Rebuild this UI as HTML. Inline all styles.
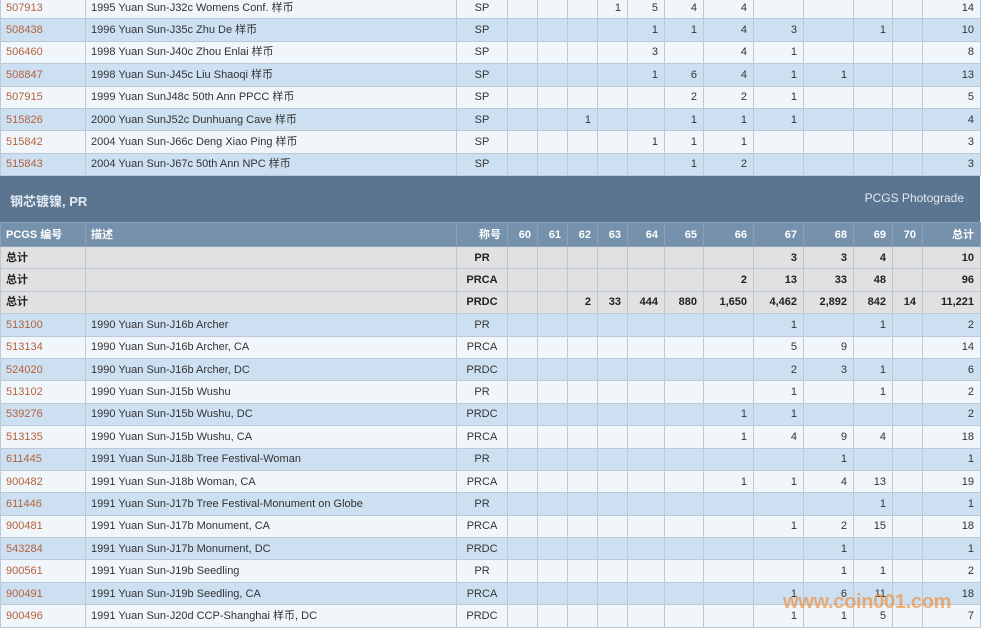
<!DOCTYPE html>
<html><head><meta charset="utf-8"><style>
body{margin:0;width:982px;height:630px;overflow:hidden;background:#fff;position:relative;font-family:"Liberation Sans","Noto Sans CJK SC",sans-serif;font-size:11px;color:#333}
table{border-collapse:collapse;table-layout:fixed;position:absolute;left:0;width:980px}
td{border:1px solid #b9c9d8;padding:0 6px 0 0;text-align:right;white-space:nowrap;overflow:hidden;height:21.4px;line-height:14px}
td.c{color:#b3623c;text-align:left;padding-left:5px}
td.d{text-align:left;padding-left:5px}
td.g{text-align:center;padding:0}
tr.l td{background:#f1f6fb}
tr.b td{background:#cde0f2}
tr.t td{background:#e1e1e1;font-weight:bold;color:#222}
tr.t td.g{font-weight:bold}
tr.h td{background:#7591ab;color:#fff;font-weight:bold;height:23px;border-color:#8aa2b9}
#sec{position:absolute;left:0;top:176px;width:980px;height:46px;background:#5b7590;border-bottom:1px solid #8aa2b9}
#sec .a{position:absolute;left:10px;top:15px;font-size:13px;font-weight:bold;color:#e2eaf2}
#sec .b{position:absolute;right:16px;top:15px;font-size:12px;color:#e2eaf2}
#wm{position:absolute;left:783px;top:591px;font-size:20px;font-weight:bold;color:rgba(238,140,50,0.65);letter-spacing:-0.3px}
</style></head><body>
<table style="top:-4px">
<colgroup><col style="width:85px"><col style="width:371px"><col style="width:51px"><col style="width:30px"><col style="width:30px"><col style="width:30px"><col style="width:30px"><col style="width:37px"><col style="width:39px"><col style="width:50px"><col style="width:50px"><col style="width:50px"><col style="width:39px"><col style="width:30px"><col style="width:58px"></colgroup>
<tr class="l"><td class="c">507913</td><td class="d">1995 Yuan Sun-J32c Womens Conf. 样币</td><td class="g">SP</td><td></td><td></td><td></td><td>1</td><td>5</td><td>4</td><td>4</td><td></td><td></td><td></td><td></td><td>14</td></tr>
<tr class="b"><td class="c">508438</td><td class="d">1996 Yuan Sun-J35c Zhu De 样币</td><td class="g">SP</td><td></td><td></td><td></td><td></td><td>1</td><td>1</td><td>4</td><td>3</td><td></td><td>1</td><td></td><td>10</td></tr>
<tr class="l"><td class="c">506460</td><td class="d">1998 Yuan Sun-J40c Zhou Enlai 样币</td><td class="g">SP</td><td></td><td></td><td></td><td></td><td>3</td><td></td><td>4</td><td>1</td><td></td><td></td><td></td><td>8</td></tr>
<tr class="b"><td class="c">508847</td><td class="d">1998 Yuan Sun-J45c Liu Shaoqi 样币</td><td class="g">SP</td><td></td><td></td><td></td><td></td><td>1</td><td>6</td><td>4</td><td>1</td><td>1</td><td></td><td></td><td>13</td></tr>
<tr class="l"><td class="c">507915</td><td class="d">1999 Yuan SunJ48c 50th Ann PPCC 样币</td><td class="g">SP</td><td></td><td></td><td></td><td></td><td></td><td>2</td><td>2</td><td>1</td><td></td><td></td><td></td><td>5</td></tr>
<tr class="b"><td class="c">515826</td><td class="d">2000 Yuan SunJ52c Dunhuang Cave 样币</td><td class="g">SP</td><td></td><td></td><td>1</td><td></td><td></td><td>1</td><td>1</td><td>1</td><td></td><td></td><td></td><td>4</td></tr>
<tr class="l"><td class="c">515842</td><td class="d">2004 Yuan Sun-J66c Deng Xiao Ping 样币</td><td class="g">SP</td><td></td><td></td><td></td><td></td><td>1</td><td>1</td><td>1</td><td></td><td></td><td></td><td></td><td>3</td></tr>
<tr class="b"><td class="c">515843</td><td class="d">2004 Yuan Sun-J67c 50th Ann NPC 样币</td><td class="g">SP</td><td></td><td></td><td></td><td></td><td></td><td>1</td><td>2</td><td></td><td></td><td></td><td></td><td>3</td></tr>
</table>
<div id="sec"><span class="a">钢芯镀镍, PR</span><span class="b">PCGS Photograde</span></div>
<table style="top:222px">
<colgroup><col style="width:85px"><col style="width:371px"><col style="width:51px"><col style="width:30px"><col style="width:30px"><col style="width:30px"><col style="width:30px"><col style="width:37px"><col style="width:39px"><col style="width:50px"><col style="width:50px"><col style="width:50px"><col style="width:39px"><col style="width:30px"><col style="width:58px"></colgroup>
<tr class="h"><td class="d">PCGS 编号</td><td class="d">描述</td><td>称号</td><td>60</td><td>61</td><td>62</td><td>63</td><td>64</td><td>65</td><td>66</td><td>67</td><td>68</td><td>69</td><td>70</td><td>总计</td></tr>
<tr class="t"><td class="d">总计</td><td></td><td class="g">PR</td><td></td><td></td><td></td><td></td><td></td><td></td><td></td><td>3</td><td>3</td><td>4</td><td></td><td>10</td></tr>
<tr class="t"><td class="d">总计</td><td></td><td class="g">PRCA</td><td></td><td></td><td></td><td></td><td></td><td></td><td>2</td><td>13</td><td>33</td><td>48</td><td></td><td>96</td></tr>
<tr class="t"><td class="d">总计</td><td></td><td class="g">PRDC</td><td></td><td></td><td>2</td><td>33</td><td>444</td><td>880</td><td>1,650</td><td>4,462</td><td>2,892</td><td>842</td><td>14</td><td>11,221</td></tr>
<tr class="b"><td class="c">513100</td><td class="d">1990 Yuan Sun-J16b Archer</td><td class="g">PR</td><td></td><td></td><td></td><td></td><td></td><td></td><td></td><td>1</td><td></td><td>1</td><td></td><td>2</td></tr>
<tr class="l"><td class="c">513134</td><td class="d">1990 Yuan Sun-J16b Archer, CA</td><td class="g">PRCA</td><td></td><td></td><td></td><td></td><td></td><td></td><td></td><td>5</td><td>9</td><td></td><td></td><td>14</td></tr>
<tr class="b"><td class="c">524020</td><td class="d">1990 Yuan Sun-J16b Archer, DC</td><td class="g">PRDC</td><td></td><td></td><td></td><td></td><td></td><td></td><td></td><td>2</td><td>3</td><td>1</td><td></td><td>6</td></tr>
<tr class="l"><td class="c">513102</td><td class="d">1990 Yuan Sun-J15b Wushu</td><td class="g">PR</td><td></td><td></td><td></td><td></td><td></td><td></td><td></td><td>1</td><td></td><td>1</td><td></td><td>2</td></tr>
<tr class="b"><td class="c">539276</td><td class="d">1990 Yuan Sun-J15b Wushu, DC</td><td class="g">PRDC</td><td></td><td></td><td></td><td></td><td></td><td></td><td>1</td><td>1</td><td></td><td></td><td></td><td>2</td></tr>
<tr class="l"><td class="c">513135</td><td class="d">1990 Yuan Sun-J15b Wushu, CA</td><td class="g">PRCA</td><td></td><td></td><td></td><td></td><td></td><td></td><td>1</td><td>4</td><td>9</td><td>4</td><td></td><td>18</td></tr>
<tr class="b"><td class="c">611445</td><td class="d">1991 Yuan Sun-J18b Tree Festival-Woman</td><td class="g">PR</td><td></td><td></td><td></td><td></td><td></td><td></td><td></td><td></td><td>1</td><td></td><td></td><td>1</td></tr>
<tr class="l"><td class="c">900482</td><td class="d">1991 Yuan Sun-J18b Woman, CA</td><td class="g">PRCA</td><td></td><td></td><td></td><td></td><td></td><td></td><td>1</td><td>1</td><td>4</td><td>13</td><td></td><td>19</td></tr>
<tr class="b"><td class="c">611446</td><td class="d">1991 Yuan Sun-J17b Tree Festival-Monument on Globe</td><td class="g">PR</td><td></td><td></td><td></td><td></td><td></td><td></td><td></td><td></td><td></td><td>1</td><td></td><td>1</td></tr>
<tr class="l"><td class="c">900481</td><td class="d">1991 Yuan Sun-J17b Monument, CA</td><td class="g">PRCA</td><td></td><td></td><td></td><td></td><td></td><td></td><td></td><td>1</td><td>2</td><td>15</td><td></td><td>18</td></tr>
<tr class="b"><td class="c">543284</td><td class="d">1991 Yuan Sun-J17b Monument, DC</td><td class="g">PRDC</td><td></td><td></td><td></td><td></td><td></td><td></td><td></td><td></td><td>1</td><td></td><td></td><td>1</td></tr>
<tr class="l"><td class="c">900561</td><td class="d">1991 Yuan Sun-J19b Seedling</td><td class="g">PR</td><td></td><td></td><td></td><td></td><td></td><td></td><td></td><td></td><td>1</td><td>1</td><td></td><td>2</td></tr>
<tr class="b"><td class="c">900491</td><td class="d">1991 Yuan Sun-J19b Seedling, CA</td><td class="g">PRCA</td><td></td><td></td><td></td><td></td><td></td><td></td><td></td><td>1</td><td>6</td><td>11</td><td></td><td>18</td></tr>
<tr class="l"><td class="c">900496</td><td class="d">1991 Yuan Sun-J20d CCP-Shanghai 样币, DC</td><td class="g">PRDC</td><td></td><td></td><td></td><td></td><td></td><td></td><td></td><td>1</td><td>1</td><td>5</td><td></td><td>7</td></tr>
</table>
<div id="wm">www.coin001.com</div>
</body></html>
